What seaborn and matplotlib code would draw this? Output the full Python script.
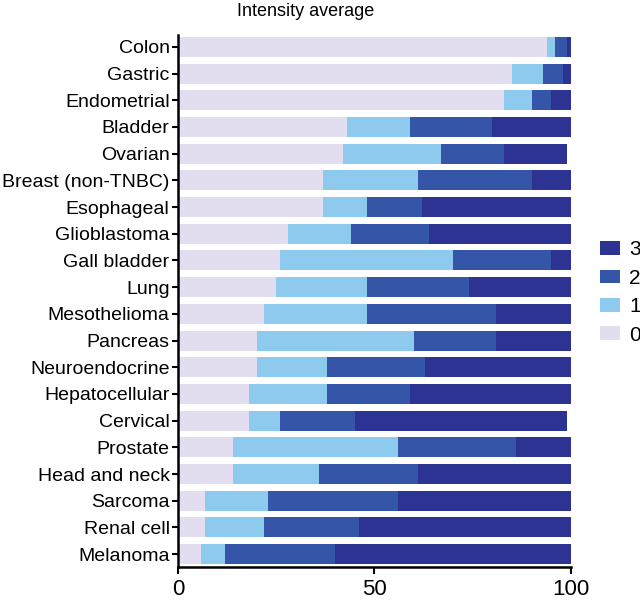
import numpy as np
import pandas as pd
import matplotlib
matplotlib.use("Agg")
import matplotlib.pyplot as plt
import seaborn as sns

cancers = ["Colon", "Gastric", "Endometrial", "Bladder", "Ovarian",
           "Breast (non-TNBC)", "Esophageal", "Glioblastoma", "Gall bladder",
           "Lung", "Mesothelioma", "Pancreas", "Neuroendocrine",
           "Hepatocellular", "Cervical", "Prostate", "Head and neck",
           "Sarcoma", "Renal cell", "Melanoma"]

# percent of samples per staining intensity score
score0 = [94, 85, 83, 43, 42, 37, 37, 28, 26, 25, 22, 20, 20, 18, 18, 14, 14, 7, 7, 6]
score1 = [2, 8, 7, 16, 25, 24, 11, 16, 44, 23, 26, 40, 18, 20, 8, 42, 22, 16, 15, 6]
score2 = [3, 5, 5, 21, 16, 29, 14, 20, 25, 26, 33, 21, 25, 21, 19, 30, 25, 33, 24, 28]
score3 = [1, 2, 5, 20, 16, 10, 38, 36, 5, 26, 19, 19, 37, 41, 54, 14, 39, 44, 54, 60]

scores = ["0", "1", "2", "3"]
colors = {"0": "#e2ddef", "1": "#8dcaee", "2": "#3556a8", "3": "#2d3393"}

df = pd.DataFrame({"cancer": cancers, "0": score0, "1": score1,
                   "2": score2, "3": score3})
cum = df[scores].cumsum(axis=1)

plt.rcParams["font.family"] = ["Liberation Sans", "DejaVu Sans"]

fig = plt.figure(figsize=(6.4, 6.0), dpi=100)
ax = fig.add_axes([0.278, 0.055, 0.614, 0.887])

# stacked bars drawn as overlapping cumulative bars, largest first
for s in reversed(scores):
    sns.barplot(x=cum[s], y=df["cancer"], color=colors[s], width=0.75,
                saturation=1, label=s, ax=ax, orient="h")

ax.set_xlim(0, 100)
ax.set_ylim(19.48, -0.45)
ax.set_xticks([0, 50, 100])
ax.set_xlabel("")
ax.set_ylabel("")
ax.tick_params(axis="x", labelsize=16, width=1.5, length=5)
ax.tick_params(axis="y", labelsize=14, width=1.5, length=4, pad=2)
for side in ["top", "right"]:
    ax.spines[side].set_visible(False)
for side in ["left", "bottom"]:
    ax.spines[side].set_linewidth(1.8)

handles, labels = ax.get_legend_handles_labels()
ax.legend(handles, labels, loc="center left", bbox_to_anchor=(0.9375, 0.5125),
          bbox_transform=fig.transFigure, frameon=False, fontsize=15,
          borderaxespad=0, borderpad=0,
          handlelength=0.96, handleheight=0.63, labelspacing=0.45,
          handletextpad=0.45)

fig.text(0.477, 0.995, "Intensity average", ha="center", va="top", fontsize=13)

fig.savefig("out.png", dpi=100)
